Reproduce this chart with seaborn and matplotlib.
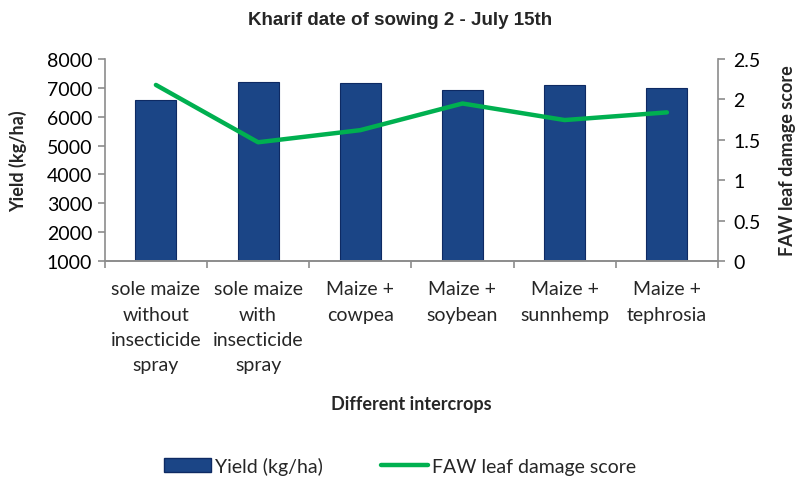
import matplotlib
matplotlib.use("Agg")
import matplotlib.pyplot as plt
import seaborn as sns
import pandas as pd
from matplotlib.patches import Patch
from matplotlib.lines import Line2D

# Dados
tratamentos = [
    "sole maize\nwithout\ninsecticide\nspray",
    "sole maize\nwith\ninsecticide\nspray",
    "Maize +\ncowpea",
    "Maize +\nsoybean",
    "Maize +\nsunnhemp",
    "Maize +\ntephrosia",
]
yield_kg_ha = [6570, 7200, 7180, 6925, 7110, 7010]
faw_score = [2.18, 1.47, 1.62, 1.95, 1.745, 1.84]

df = pd.DataFrame({"trat": tratamentos, "yield": yield_kg_ha, "faw": faw_score})

sns.set_style("white")
plt.rcParams["font.family"] = ["Lato", "DejaVu Sans"]

bar_cor = "#1B4586"
linha_cor = "#00B050"
cinza = "#8C8C8C"

fig = plt.figure(figsize=(8, 4.81), dpi=100)
ax = fig.add_axes([0.131, 0.4553, 0.7665, 0.4198])

sns.barplot(data=df, x="trat", y="yield", color=bar_cor, width=0.4,
            edgecolor="#0E2A63", linewidth=0.8, saturation=1, ax=ax)
ax.set_ylim(1000, 8000)
ax.set_yticks(range(1000, 8001, 1000))
ax.set_xlim(-0.5, 5.5)

ax2 = ax.twinx()
sns.pointplot(data=df, x="trat", y="faw", color=linha_cor, markers="",
              linewidth=3.2, ax=ax2)
ax2.set_ylim(0, 2.5)
ax2.set_yticks([0, 0.5, 1, 1.5, 2, 2.5])
ax2.set_yticklabels(["0", "0.5", "1", "1.5", "2", "2.5"])
ax2.set_xlim(-0.5, 5.5)

for a in (ax, ax2):
    a.spines["top"].set_visible(False)
    for s in ("left", "right", "bottom"):
        a.spines[s].set_color(cinza)
        a.spines[s].set_linewidth(1.2)
    a.tick_params(axis="y", colors=cinza, labelcolor="black", labelsize=14,
                  length=5, width=1.2, direction="out")
ax.spines["right"].set_visible(False)
ax2.spines["left"].set_visible(False)
ax.tick_params(axis="y", left=True, pad=4)
ax2.tick_params(axis="y", right=True, pad=6)

# eixo x: rótulos no centro, marcas nas divisões
ax.set_xticks(range(len(tratamentos)))
ax.set_xticklabels(tratamentos, fontsize=14, linespacing=1.58)
ax.tick_params(axis="x", length=0, pad=14)
ax.set_xticks([i - 0.5 for i in range(len(tratamentos) + 1)], minor=True)
ax.tick_params(axis="x", which="minor", length=5, width=1.2, color=cinza, bottom=True)
ax2.tick_params(axis="x", length=0)

ax.set_xlabel("Different intercrops", fontsize=13, fontweight="bold", labelpad=16)
ax.set_ylabel("Yield (kg/ha)", fontsize=13, fontweight="bold", labelpad=14)
ax2.set_xlabel("")
ax2.set_ylabel("FAW leaf damage score", fontsize=13, fontweight="bold", labelpad=13)

fig.suptitle("Kharif date of sowing 2 - July 15th", x=0.5, y=0.975,
             fontsize=13.5, fontweight="bold", family="Liberation Sans")

handles = [Patch(facecolor=bar_cor, edgecolor="#0E2A63"),
           Line2D([0], [0], color=linha_cor, lw=3.2)]
fig.legend(handles, ["Yield (kg/ha)", "FAW leaf damage score"], loc="center",
           bbox_to_anchor=(0.5, 0.03), ncol=2, frameon=False, fontsize=14,
           handlelength=2.4, handletextpad=0.2, columnspacing=3)

fig.savefig("out.png", dpi=100)
